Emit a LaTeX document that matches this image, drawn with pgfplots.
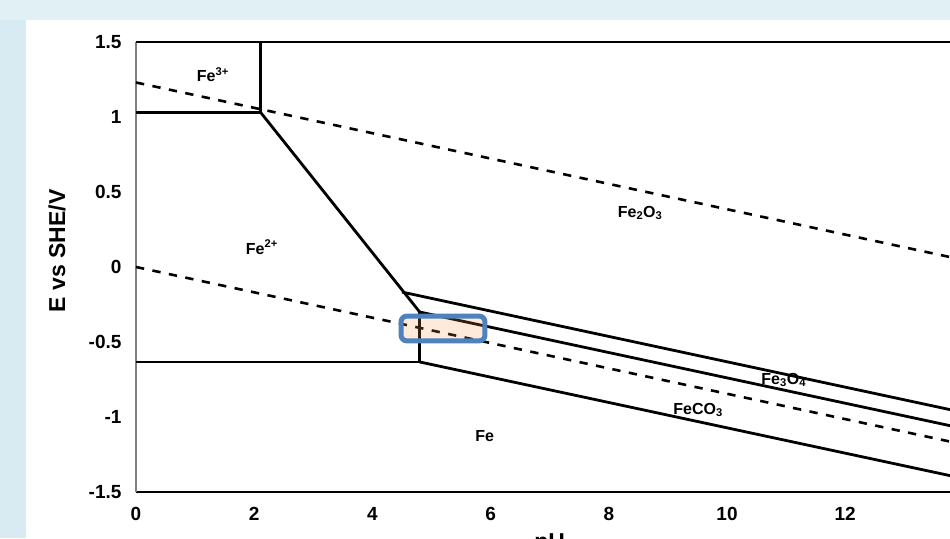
\documentclass[border=0pt]{standalone}
\usepackage{fontspec}
\setmainfont{Liberation Sans}
\usepackage{pgfplots}
\pgfplotsset{compat=1.18}
\definecolor{topbg}{RGB}{225,240,245}
\definecolor{leftbg}{RGB}{216,235,242}
\definecolor{boxblue}{RGB}{79,129,189}
\definecolor{boxfill}{RGB}{247,150,70}
\tikzset{
  solid line/.style={black, line width=2.8pt, line join=round, line cap=butt},
  dash line/.style={black, line width=2.6pt, dash pattern=on 8.3pt off 8.5pt},
  lab/.style={font=\fontsize{16}{16}\selectfont\bfseries, inner sep=0pt},
}
\begin{document}
\begin{tikzpicture}
\path[use as bounding box] (0,0) rectangle (950pt,538pt);
\clip (0,0) rectangle (950pt,538pt);
\fill[topbg] (0,0) rectangle (950pt,538pt);
\fill[leftbg] (0,0) rectangle (26pt,518pt);
\fill[white] (26pt,0) rectangle (950pt,518pt);
\begin{axis}[
  at={(136pt,46pt)}, anchor=south west,
  scale only axis, width=827.4pt, height=450pt,
  xmin=0, xmax=14, ymin=-1.5, ymax=1.5,
  clip=false,
  axis x line*=bottom, axis y line*=left,
  x axis line style={-, line width=2.7pt, black},
  y axis line style={-, line width=1.2pt, gray},
  xtick={0,2,4,6,8,10,12}, xticklabels={0,2,4,6,8,10,12},
  ytick={-1.5,-1,-0.5,0,0.5,1,1.5}, yticklabels={-1.5,-1,-0.5,0,0.5,1,1.5},
  major tick length=0pt,
  tick label style={font=\fontsize{19}{19}\selectfont\bfseries},
  xticklabel style={yshift=-12pt},
  yticklabel style={xshift=-11pt},
  xlabel={pH}, ylabel={E vs SHE/V},
  label style={font=\fontsize{23}{23}\selectfont\bfseries},
  xlabel style={at={(axis description cs:0.5,0)}, anchor=north, yshift=-41pt, inner sep=0pt},
  ylabel style={at={(axis description cs:-0.0955,0.5356)}, anchor=center},
]
% solid boundaries
\addplot[solid line] coordinates {(0,1.5) (14,1.5)};
\addplot[solid line] coordinates {(0,1.03) (2.11,1.03)};
\addplot[solid line] coordinates {(2.11,1.03) (2.11,1.5)};
\addplot[solid line] coordinates {(2.11,1.03) (4.8,-0.30)};
\addplot[solid line] coordinates {(4.8,-0.30) (4.8,-0.633)};
\addplot[solid line] coordinates {(0,-0.633) (4.8,-0.633)};
\addplot[solid line] coordinates {(4.5,-0.167) (14,-0.970)};
\addplot[solid line] coordinates {(4.8,-0.30) (14,-1.077)};
\addplot[solid line] coordinates {(4.8,-0.633) (14,-1.41)};
% water stability lines
\addplot[dash line] coordinates {(0,1.23) (14,0.047)};
\addplot[dash line] coordinates {(0,0) (14,-1.183)};
% highlight box
\draw[draw=boxblue, line width=5pt, rounded corners=6pt, fill=boxfill, fill opacity=0.2, draw opacity=1]
  (axis cs:4.484,-0.327) rectangle (axis cs:5.905,-0.493);
% labels
\node[lab] at (axis cs:1.30,1.28) {Fe\textsuperscript{3+}};
\node[lab] at (axis cs:2.13,0.133) {Fe\textsuperscript{2+}};
\node[lab] at (axis cs:8.53,0.36) {Fe\textsubscript{2}O\textsubscript{3}};
\node[lab] at (axis cs:10.96,-0.753) {Fe\textsubscript{3}O\textsubscript{4}};
\node[lab] at (axis cs:9.51,-0.953) {FeCO\textsubscript{3}};
\node[lab] at (axis cs:5.9,-1.127) {Fe};
\end{axis}
\end{tikzpicture}
\end{document}
